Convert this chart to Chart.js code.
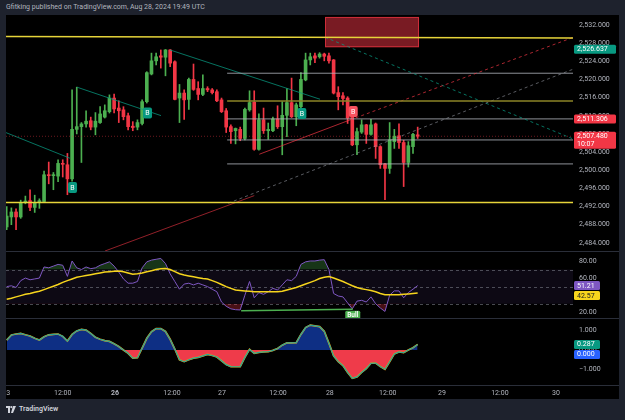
<!DOCTYPE html>
<html>
<head>
<meta charset="utf-8">
<script src="https://cdn.jsdelivr.net/npm/chart.js@4.4.1/dist/chart.umd.min.js"></script>
<style>
  html, body { margin: 0; padding: 0; width: 625px; height: 420px; overflow: hidden; background: #1e222d; font-family: Roboto, 'Liberation Sans', sans-serif; }
  #head { position: absolute; left: 6px; top: 3px; font-size: 7px; color: #b2b5be; white-space: nowrap; }
  #frame { position: absolute; left: 6px; top: 15px; width: 613px; height: 384px; background: #000; }
  canvas { position: absolute; left: 6px; }
  .sep { position: absolute; left: 6px; width: 613px; height: 1px; background: #2a2e39; }
  #foot { position: absolute; left: 6px; top: 405px; font-size: 7px; font-weight: 600; color: #d1d4dc; display: flex; align-items: center; gap: 3px; }
</style>
</head>
<body>
<div id="head">Gfitking published on TradingView.com, Aug 28, 2024 19:49 UTC</div>
<div id="frame"></div>
<canvas id="price" width="613" height="236" style="top:15px"></canvas>
<div class="sep" style="top:251px"></div>
<canvas id="rsi" width="613" height="66" style="top:252px"></canvas>
<div class="sep" style="top:318px"></div>
<canvas id="osc" width="613" height="80" style="top:319px"></canvas>
<div class="sep" style="top:385px"></div>
<div id="foot">
  <svg width="10" height="7" viewBox="0 0 10 7"><rect x="0" y="0" width="4" height="2" fill="#d1d4dc"/><rect x="2" y="0" width="2" height="7" fill="#d1d4dc"/><circle cx="5.3" cy="1.1" r="1.1" fill="#d1d4dc"/><polygon points="7,0 10,0 7,7 5,7" fill="#d1d4dc"/></svg>
  <span>TradingView</span>
</div>
<script>
// bougies 1h (index = bougie)
const opens  = [2487.5, 2489.7, 2490.8, 2489.7, 2493.0, 2493.3, 2491.8, 2492.9, 2493.1, 2499.0,
                2498.8, 2498.7, 2501.5, 2501.2, 2498.1, 2509.0, 2509.6, 2510.2, 2510.9, 2509.5,
                2510.5, 2511.7, 2512.9, 2515.9, 2513.7, 2513.3, 2512.0, 2509.7, 2509.5, 2510.3,
                2515.1, 2521.2, 2524.1, 2525.2, 2524.9, 2526.5, 2523.9, 2515.9, 2517.0, 2515.6,
                2520.0, 2518.0, 2516.7, 2518.0, 2517.7, 2517.3, 2515.5, 2513.1, 2509.6, 2508.7,
                2509.0, 2507.0, 2513.3, 2515.0, 2504.6, 2511.1, 2508.7, 2508.7, 2511.3, 2509.6,
                2512.1, 2514.9, 2511.8, 2514.0, 2519.9, 2524.3, 2525.2, 2525.0, 2525.6, 2525.2,
                2524.3, 2517.1, 2516.4, 2515.9, 2511.8, 2505.6, 2508.4, 2510.0, 2507.9, 2510.2,
                2505.2, 2501.4, 2500.4, 2506.3, 2507.6, 2506.1, 2501.7, 2505.2, 2507.8];
const highs  = [2492.0, 2491.7, 2491.5, 2493.4, 2494.3, 2495.7, 2494.5, 2493.7, 2499.8, 2501.8,
                2499.5, 2502.3, 2502.3, 2503.7, 2517.7, 2518.3, 2510.5, 2513.1, 2511.7, 2512.7,
                2514.0, 2514.4, 2516.6, 2516.8, 2515.3, 2514.0, 2512.6, 2510.7, 2511.1, 2515.5,
                2521.7, 2525.8, 2525.8, 2526.5, 2526.6, 2526.6, 2524.1, 2518.9, 2517.7, 2520.3,
                2523.4, 2519.5, 2521.0, 2518.4, 2518.0, 2517.7, 2515.9, 2513.6, 2510.0, 2509.3,
                2509.5, 2513.7, 2517.5, 2517.5, 2512.4, 2513.7, 2510.4, 2511.7, 2514.2, 2515.1,
                2518.0, 2520.3, 2514.8, 2521.5, 2525.8, 2525.8, 2525.8, 2525.9, 2525.8, 2525.8,
                2524.4, 2518.4, 2517.1, 2516.2, 2512.0, 2509.3, 2511.1, 2510.1, 2511.2, 2510.4,
                2505.4, 2501.5, 2510.5, 2509.0, 2510.2, 2506.6, 2506.3, 2508.1, 2509.5];
const lows   = [2486.9, 2488.0, 2486.9, 2489.4, 2492.6, 2491.1, 2490.7, 2491.6, 2492.9, 2497.0,
                2495.7, 2497.5, 2498.5, 2494.6, 2497.6, 2508.0, 2501.7, 2509.5, 2508.9, 2507.8,
                2510.3, 2511.5, 2512.6, 2512.6, 2510.5, 2511.1, 2508.9, 2508.7, 2508.9, 2510.0,
                2514.8, 2521.0, 2523.2, 2522.5, 2520.8, 2522.8, 2515.5, 2510.5, 2511.2, 2513.4,
                2517.6, 2515.5, 2516.4, 2517.3, 2516.8, 2515.1, 2512.7, 2508.3, 2505.9, 2505.8,
                2506.5, 2506.7, 2513.0, 2504.4, 2504.4, 2508.1, 2506.8, 2508.5, 2509.2, 2503.4,
                2507.4, 2511.6, 2509.8, 2513.7, 2519.7, 2523.2, 2523.7, 2524.7, 2524.1, 2523.6,
                2516.8, 2513.3, 2514.4, 2510.3, 2505.4, 2503.4, 2508.1, 2505.9, 2507.7, 2502.6,
                2500.4, 2493.5, 2499.3, 2504.8, 2504.8, 2496.4, 2500.7, 2503.7, 2507.0];
const closes = [2489.9, 2490.8, 2489.7, 2492.9, 2493.2, 2491.8, 2492.9, 2493.3, 2499.0, 2498.8,
                2499.0, 2501.5, 2501.3, 2498.1, 2509.0, 2509.6, 2510.2, 2510.8, 2509.5, 2510.8,
                2512.4, 2513.1, 2515.9, 2513.5, 2513.1, 2511.8, 2509.6, 2509.4, 2510.5, 2515.1,
                2521.5, 2524.1, 2525.0, 2524.9, 2526.5, 2523.6, 2515.6, 2517.0, 2515.5, 2520.0,
                2517.8, 2516.7, 2518.0, 2517.7, 2517.1, 2515.3, 2512.9, 2509.5, 2508.5, 2509.2,
                2507.0, 2513.4, 2514.9, 2504.6, 2511.1, 2508.7, 2509.0, 2511.3, 2509.6, 2512.1,
                2514.9, 2511.8, 2514.4, 2520.0, 2524.3, 2525.0, 2524.7, 2525.6, 2525.1, 2524.1,
                2517.0, 2516.2, 2515.8, 2511.5, 2505.6, 2508.5, 2510.0, 2507.9, 2510.0, 2505.2,
                2501.2, 2500.4, 2506.7, 2507.5, 2506.1, 2501.7, 2505.4, 2507.9, 2507.48];

// RSI et sa moyenne
const rsi   = [50, 51, 49, 57, 60, 58, 59, 60, 73, 72, 74, 76, 75, 62, 80, 72, 70, 73, 71, 72,
               75, 77, 79, 74, 67, 59, 54, 54, 56, 72, 79, 81, 82, 83, 77, 65, 56, 47, 53, 54,
               52, 54, 52, 50, 47, 44, 32, 27, 24, 23, 22.7, 40, 56, 37, 43, 41, 44, 48, 46, 52,
               58, 57, 62, 76, 79, 80, 80, 81, 81.5, 70, 42, 39, 38, 31, 24, 33, 34, 32, 38, 30,
               25, 21, 40, 45, 45, 37, 43, 47, 51.21];
const rsiMa = [35.2, 36.5, 38, 39.5, 41, 42, 43.5, 44.6, 46.5, 48.5, 50.5, 52.5, 55, 57, 59, 61, 62, 63, 64, 65,
               66, 67, 67.5, 68, 68.4, 67.5, 66, 64.5, 65, 66, 67.5, 68.5, 70, 71, 71.2, 70, 67.5, 65, 63.5, 62.5,
               61.5, 60.5, 59.5, 58.8, 57, 55, 52.5, 50, 48, 46, 45.5, 45, 44.5, 44, 44, 43.9, 43.9, 43.9, 43.9, 44.5,
               46, 47.5, 49, 51, 53, 55, 57, 59.5, 61, 61.7, 60, 58, 56, 53.5, 51, 49, 47.5, 46.5, 45.5, 44,
               42, 40.5, 40.4, 40.4, 40.4, 41, 41.5, 42, 42.57];
const rsiLevels = [70, 50, 30];

// oscillateur du bas
const osc = [0.51, 0.77, 0.82, 0.85, 0.78, 0.72, 0.6, 0.51, 0.68, 0.78, 0.8, 0.82, 0.7, 0.46, 0.8, 0.98, 1.06, 1.02, 0.85, 0.65,
             0.55, 0.48, 0.44, 0.32, 0.18, 0.0, -0.17, -0.42, -0.4, 0.1, 0.6, 0.94, 1.1, 1.1, 0.95, 0.55, 0.05, -0.5, -0.6, -0.5,
             -0.42, -0.38, -0.3, -0.23, -0.28, -0.36, -0.55, -0.75, -0.85, -0.86, -0.85, -0.38, 0.03, -0.17, -0.12, -0.1, -0.09, -0.02, 0.08, 0.25,
             0.37, 0.37, 0.38, 0.8, 1.15, 1.28, 1.24, 1.2, 0.96, 0.35, -0.3, -0.6, -0.8, -1.15, -1.45, -1.38, -1.15, -0.95, -0.68, -0.67,
             -0.85, -0.99, -0.6, -0.2, -0.1, -0.14, 0.0, 0.12, 0.287];

// graduations
const priceTicks = [2484, 2488, 2492, 2496, 2500, 2504, 2508, 2512, 2516, 2520, 2524, 2528, 2532];
const rsiTicks   = [20, 40, 60, 80];
const oscTicks   = [-1, 0, 1];
const tickIdx    = [0.3, 12, 23.2, 35.4, 46.1, 58.1, 69.2, 81.6, 93.2, 105.6, 117.6];
const tickLabels = ['3', '12:00', '26', '12:00', '27', '12:00', '28', '12:00', '29', '12:00', '30'];

// dessins (index, prix)
const hLineValues = [2521.37, 2511.306, 2506.67, 2501.39];
const yellowLevels = [2529.47, 2529.14, 2492.91];
const oliveLevel = 2515.26;
const lastPrice = 2507.48;
const trendTeal = [[-0.15, 2508.28, 13.55, 2502.64], [15.1, 2518.28, 33.04, 2512.03], [34.97, 2526.5, 67.09, 2515.64]];
const boxIdx = [68.16, 88.29];
const boxPrice = [2527.1, 2533.77];
const bIdx = [14.1, 30.15, 63.2, 74.2];
const bPrice = [2496.2, 2512.6, 2512.5, 2512.95];
const bColor = ['#089981', '#089981', '#089981', '#f7525f'];
const bullLine = [50.2, 21.9, 74.1, 23.5];

const X_MIN = -0.15, X_MAX = 121.26;
const FONT = 'Roboto, "Liberation Sans", sans-serif';
const green = '#4caf50', red = '#f23645';

Chart.defaults.font.family = FONT;
Chart.defaults.font.size = 7;
Chart.defaults.animation = false;
Chart.defaults.devicePixelRatio = 1;
Chart.defaults.plugins.legend.display = false;
Chart.defaults.plugins.tooltip.enabled = false;

function rightAxis(min, max, values, fmt) {
    return {
        position: 'right', min: min, max: max,
        grid: { display: false, drawTicks: false },
        border: { display: false },
        ticks: { padding: 6, color: '#b2b5be', callback: fmt },
        afterBuildTicks: function(s) { s.ticks = values.map(v => ({ value: v })); },
        afterFit: function(s) { s.width = 46; s.paddingTop = 0; s.paddingBottom = 0; }
    };
}

function hiddenX() {
    return { type: 'linear', min: X_MIN, max: X_MAX, display: false, offset: false };
}

function seg(x1, y1, x2, y2, color, dash, width) {
    return {
        type: 'line', data: [{ x: x1, y: y1 }, { x: x2, y: y2 }],
        borderColor: color, borderWidth: width || 1, borderDash: dash || [],
        pointRadius: 0, order: 0
    };
}

// étiquettes de prix sur l'axe de droite
function drawTags(chart, tags, w) {
    const ctx = chart.ctx;
    const ys = chart.scales.y;
    const x0 = chart.chartArea.right + 1;
    let prevBottom = -Infinity;
    ctx.save();
    ctx.font = '7px ' + FONT;
    ctx.textBaseline = 'middle';
    tags.forEach(t => {
        const h = t.text.length * 8 + 1;
        let top = ys.getPixelForValue(t.value) - 4.5;
        if (top < prevBottom + 1) top = prevBottom + 1;
        ctx.fillStyle = t.bg;
        ctx.beginPath();
        ctx.roundRect(x0, top, w, h, 1.5);
        ctx.fill();
        ctx.fillStyle = t.fg || '#ffffff';
        t.text.forEach((s, k) => ctx.fillText(s, x0 + 3, top + 4.7 + k * 8));
        prevBottom = top + h;
    });
    ctx.restore();
}

const candleColors = closes.map((c, i) => c >= opens[i] ? green : red);

const priceExtras = {
    id: 'priceExtras',
    beforeDatasetsDraw(chart) {
        const { ctx, scales: { x, y } } = chart;
        const l = x.getPixelForValue(boxIdx[0]), r = x.getPixelForValue(boxIdx[1]);
        const t = y.getPixelForValue(boxPrice[1]), b = y.getPixelForValue(boxPrice[0]);
        ctx.save();
        ctx.fillStyle = 'rgba(242,54,69,0.5)';
        ctx.fillRect(l, t, r - l, b - t);
        ctx.strokeStyle = 'rgba(242,54,69,0.7)';
        ctx.strokeRect(l + 0.5, t + 0.5, r - l - 1, b - t - 1);
        ctx.restore();
    },
    afterDatasetsDraw(chart) {
        const { ctx, scales: { x, y } } = chart;
        ctx.save();
        ctx.font = '7px ' + FONT;
        ctx.textAlign = 'center';
        ctx.textBaseline = 'middle';
        bIdx.forEach((v, i) => {
            const px = x.getPixelForValue(v), py = y.getPixelForValue(bPrice[i]);
            ctx.fillStyle = bColor[i];
            ctx.beginPath();
            ctx.roundRect(px - 4.5, py - 5.5, 9, 11, 2);
            ctx.fill();
            ctx.fillStyle = '#ffffff';
            ctx.fillText('B', px, py + 0.5);
        });
        ctx.restore();
    },
    afterDraw(chart) {
        drawTags(chart, [
            { value: 2526.637, text: ['2,526.637'], bg: '#089981' },
            { value: 2511.306, text: ['2,511.306'], bg: red },
            { value: lastPrice, text: ['2,507.480', '10:07'], bg: red }
        ], 42);
    }
};

const priceDatasets = [
    { label: 'bodies', data: opens.map((o, i) => ({ x: i, y: [o, closes[i]] })), backgroundColor: candleColors,
      barThickness: 3, minBarLength: 1, grouped: false, order: 1 },
    { label: 'wicks', data: lows.map((lo, i) => ({ x: i, y: [lo, highs[i]] })), backgroundColor: candleColors,
      barThickness: 1, grouped: false, order: 2 },
    seg(X_MIN, yellowLevels[0], X_MAX, yellowLevels[1], '#e6d43a', [], 1.5),
    seg(X_MIN, yellowLevels[2], X_MAX, yellowLevels[2], '#e6d43a', [], 1.5),
    seg(47.2, oliveLevel, X_MAX, oliveLevel, '#8c8527', [], 1.5),
    seg(X_MIN, lastPrice, X_MAX, lastPrice, 'rgba(242,54,69,0.45)', [1, 2]),
    seg(21.05, 2482.2, 53.02, 2494.4, 'rgba(242,54,69,0.6)'),
    seg(54.09, 2503.52, 73.51, 2511.08, 'rgba(242,54,69,0.7)'),
    seg(73.51, 2511.08, X_MAX, 2529.25, 'rgba(242,54,69,0.7)', [3, 3]),
    seg(47.45, 2492.73, X_MAX, 2522.25, 'rgba(149,152,161,0.6)', [3, 3]),
    seg(68.16, 2529.3, X_MAX, 2506.9, 'rgba(8,153,129,0.75)', [3, 3])
];
hLineValues.forEach(v => priceDatasets.push(seg(47.2, v, X_MAX, v, 'rgba(178,181,190,0.8)')));
trendTeal.forEach(s => priceDatasets.push(seg(s[0], s[1], s[2], s[3], 'rgba(8,153,129,0.75)')));

new Chart(document.getElementById('price'), {
    type: 'bar',
    data: { datasets: priceDatasets },
    options: {
        responsive: false,
        layout: { padding: 0 },
        scales: {
            x: hiddenX(),
            y: rightAxis(2482.2, 2534.2, priceTicks, v => v.toLocaleString('en-US', { minimumFractionDigits: 3, maximumFractionDigits: 3 }))
        }
    },
    plugins: [priceExtras]
});

// RSI
const rsiExtras = {
    id: 'rsiExtras',
    beforeDatasetsDraw(chart) {
        const { ctx, chartArea: a, scales: { y } } = chart;
        const t = y.getPixelForValue(rsiLevels[0]), b = y.getPixelForValue(rsiLevels[2]);
        ctx.save();
        ctx.fillStyle = 'rgba(126,87,194,0.1)';
        ctx.fillRect(a.left, t, a.right - a.left, b - t);
        ctx.strokeStyle = 'rgba(120,123,134,0.6)';
        ctx.setLineDash([3, 3]);
        rsiLevels.forEach(v => {
            const py = Math.round(y.getPixelForValue(v)) + 0.5;
            ctx.beginPath(); ctx.moveTo(a.left, py); ctx.lineTo(a.right, py); ctx.stroke();
        });
        ctx.restore();
    },
    afterDatasetsDraw(chart) {
        const { ctx, scales: { x, y } } = chart;
        const px = x.getPixelForValue(bullLine[2]), py = y.getPixelForValue(bullLine[3]);
        ctx.save();
        ctx.fillStyle = '#4caf50';
        ctx.beginPath();
        ctx.roundRect(px - 7.5, py + 1.5, 15, 9, 1.5);
        ctx.fill();
        ctx.fillStyle = '#ffffff';
        ctx.font = '600 6.5px ' + FONT;
        ctx.textAlign = 'center';
        ctx.textBaseline = 'middle';
        ctx.fillText('Bull', px, py + 6);
        ctx.restore();
    },
    afterDraw(chart) {
        drawTags(chart, [
            { value: rsi[rsi.length - 1], text: ['51.21'], bg: '#7e57c2' },
            { value: rsiMa[rsiMa.length - 1], text: ['42.57'], bg: '#f7d51d', fg: '#131722' }
        ], 26);
    }
};

new Chart(document.getElementById('rsi'), {
    type: 'line',
    data: {
        datasets: [
            { data: rsiMa.map((v, i) => ({ x: i, y: v })), borderColor: '#f7d51d', borderWidth: 1.5, pointRadius: 0, order: 0 },
            { data: rsi.map((v, i) => ({ x: i, y: v })), borderColor: '#7e57c2', borderWidth: 1, pointRadius: 0, order: 1,
              fill: { target: { value: 70 }, above: 'rgba(76,175,80,0.3)', below: 'transparent' } },
            { data: rsi.map((v, i) => ({ x: i, y: v })), borderColor: 'transparent', borderWidth: 0, pointRadius: 0, order: 2,
              fill: { target: { value: 30 }, above: 'transparent', below: 'rgba(242,54,69,0.3)' } },
            seg(bullLine[0], bullLine[1], bullLine[2], bullLine[3], '#4caf50', [], 1.5)
        ]
    },
    options: {
        responsive: false,
        layout: { padding: 0 },
        scales: {
            x: hiddenX(),
            y: rightAxis(13.3, 90.5, rsiTicks, v => v.toFixed(2))
        }
    },
    plugins: [rsiExtras]
});

// oscillateur + axe du temps
new Chart(document.getElementById('osc'), {
    type: 'line',
    data: {
        datasets: [
            { data: osc.map((v, i) => ({ x: i, y: v })), borderColor: '#26a69a', borderWidth: 1.2, pointRadius: 0, order: 0 },
            { data: osc.map((v, i) => ({ x: i, y: v })), borderColor: '#ff9800', borderWidth: 1.7, pointRadius: 0, order: 1,
              fill: { target: { value: 0 }, above: '#0e2f84', below: '#ef3b4a' } }
        ]
    },
    options: {
        responsive: false,
        layout: { padding: 0 },
        scales: {
            x: {
                type: 'linear', min: X_MIN, max: X_MAX, offset: false,
                grid: { display: false, drawTicks: false },
                border: { display: false },
                afterBuildTicks: s => { s.ticks = tickIdx.map(v => ({ value: v })); },
                afterFit: s => { s.height = 14; s.paddingLeft = 0; s.paddingRight = 0; },
                ticks: {
                    autoSkip: false, maxRotation: 0, padding: 4, color: '#b2b5be',
                    font: c => ({ family: FONT, size: 7, weight: c.index === 2 ? 'bold' : 'normal' }),
                    callback: (v, i) => tickLabels[i]
                }
            },
            y: rightAxis(-1.795, 1.59, oscTicks, v => (v < 0 ? '\u2212' : '') + Math.abs(v).toFixed(3))
        }
    },
    plugins: [{
        id: 'oscTags',
        afterDraw(chart) {
            drawTags(chart, [
                { value: osc[osc.length - 1], text: ['0.287'], bg: '#089981' },
                { value: 0, text: ['0.000'], bg: '#2962ff' }
            ], 26);
        }
    }]
});
</script>
</body>
</html>
